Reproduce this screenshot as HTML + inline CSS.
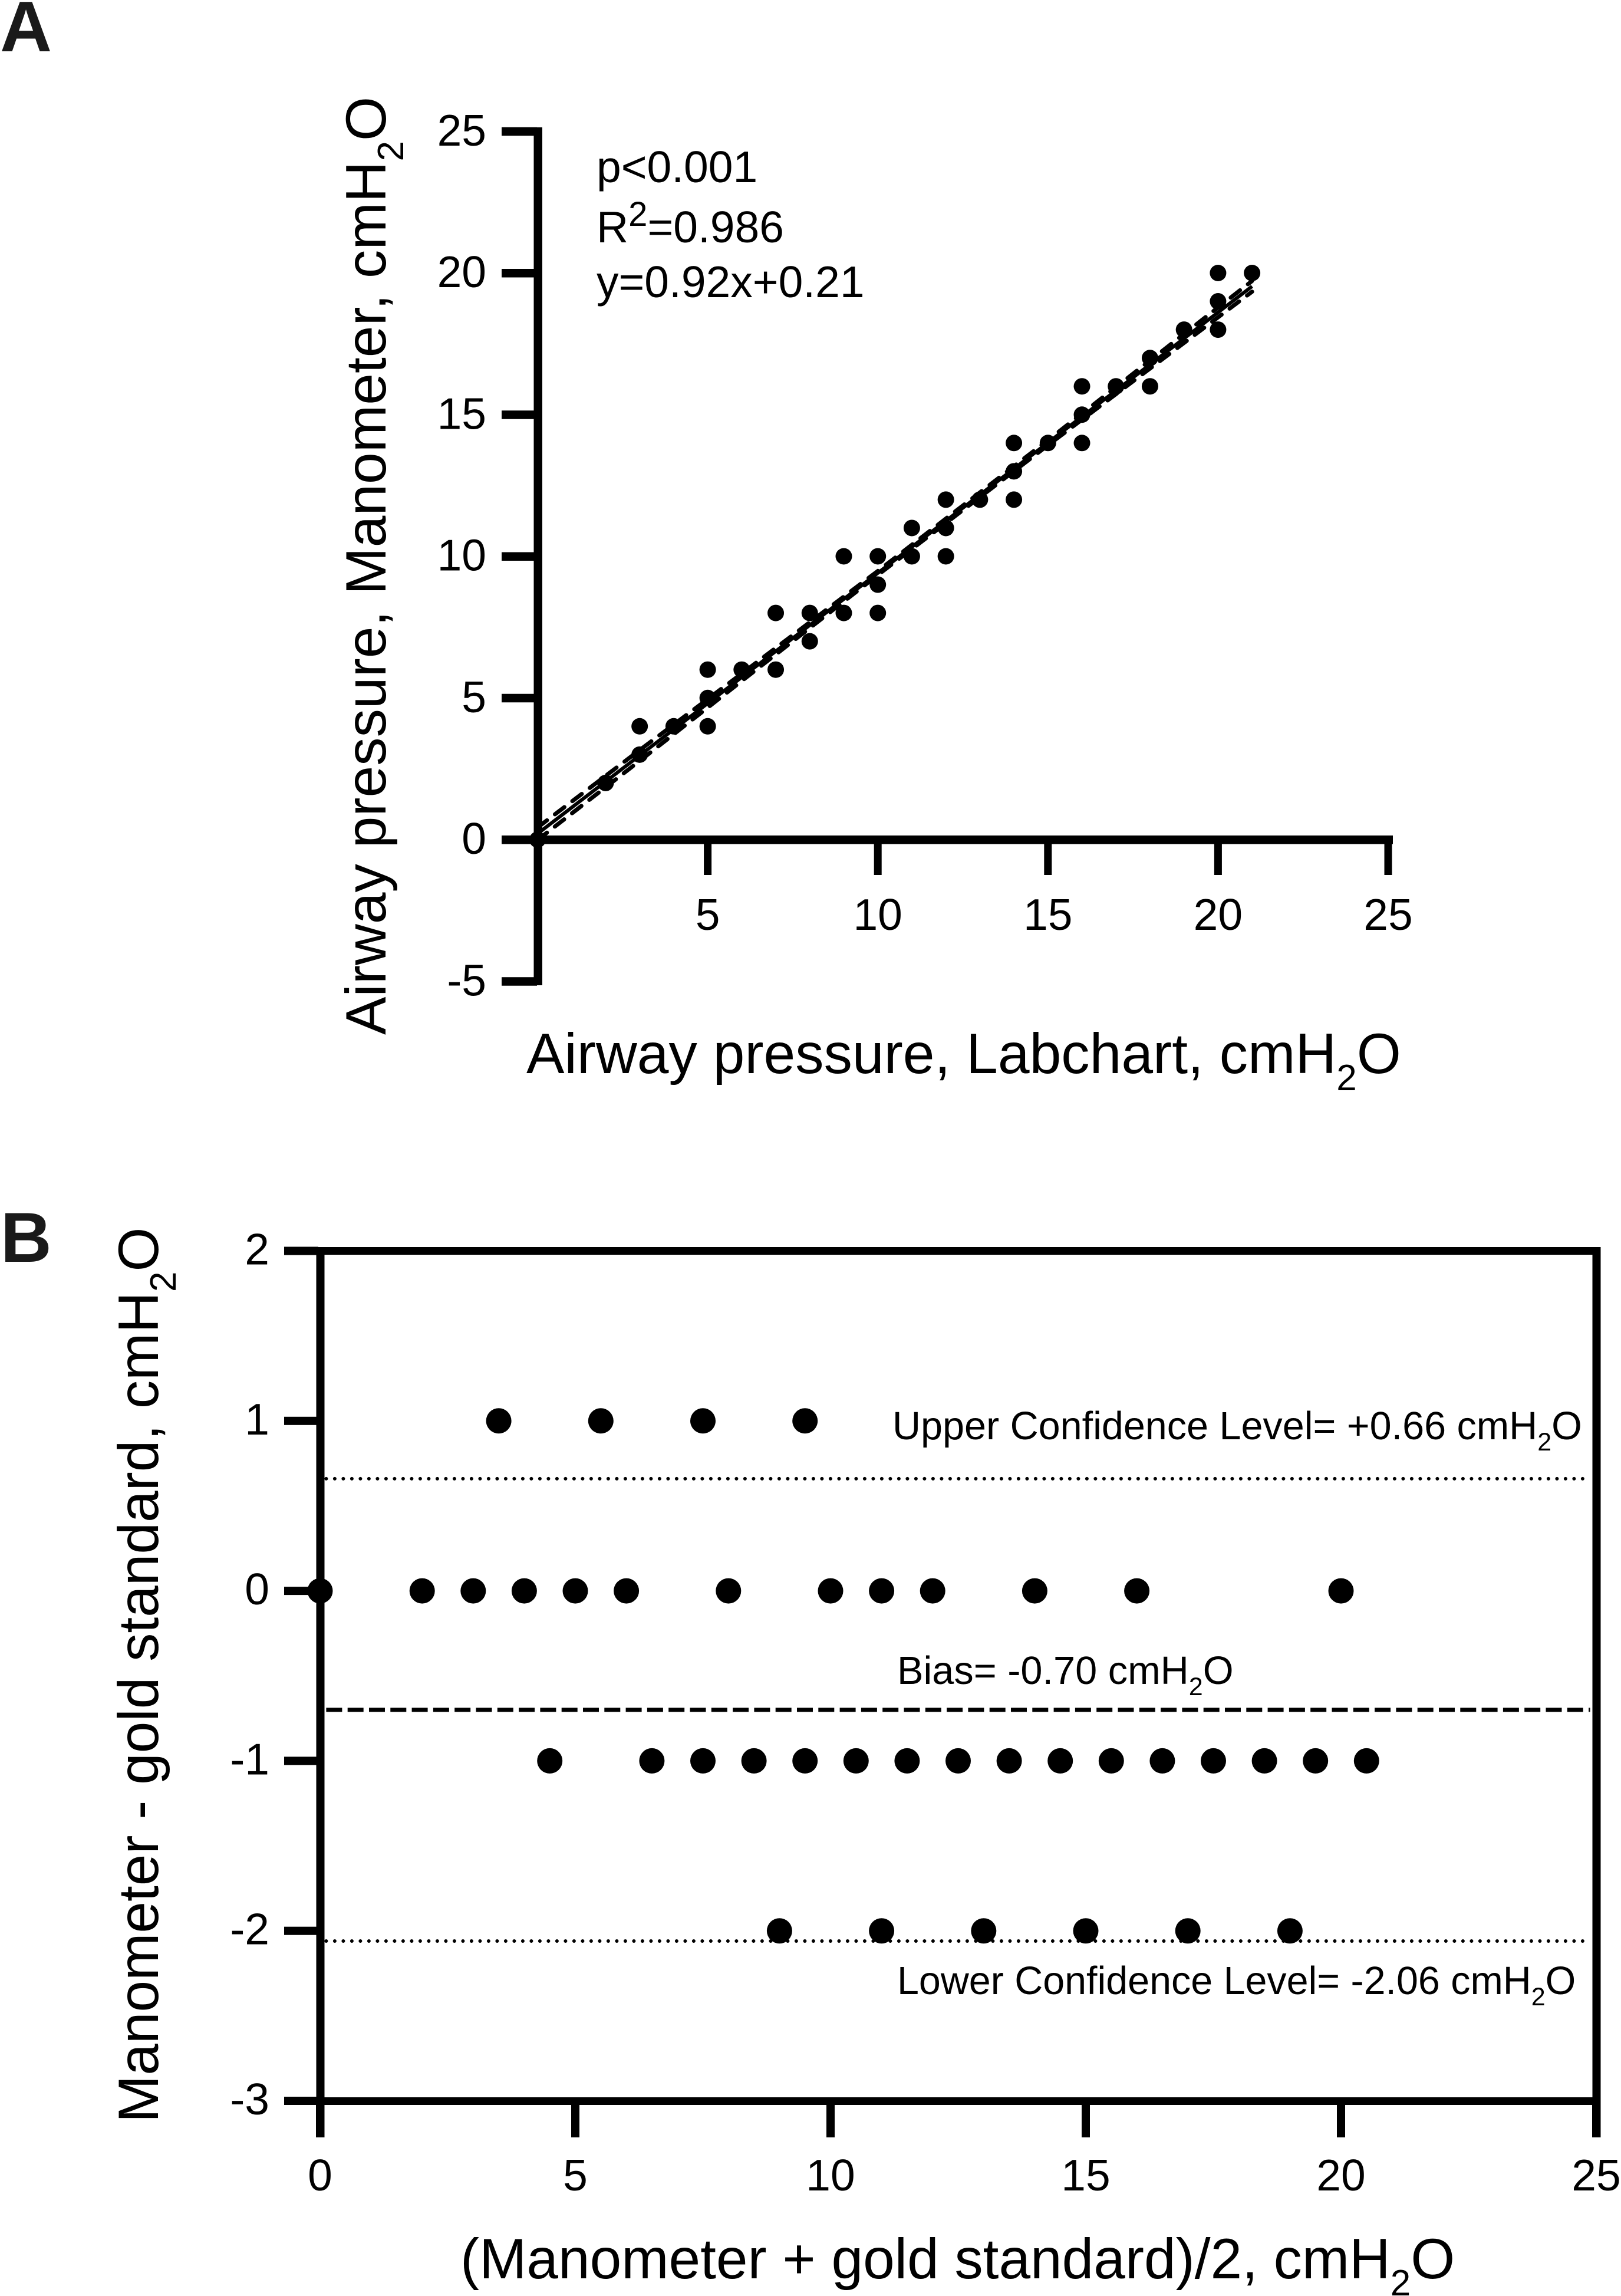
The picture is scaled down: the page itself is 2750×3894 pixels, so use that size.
<!DOCTYPE html>
<html lang="en">
<head>
<meta charset="utf-8">
<title>Airway pressure agreement: regression and Bland-Altman plots</title>
<style>
  html, body { margin: 0; padding: 0; background: #fff; }
  svg { display: block; font-family: "Liberation Sans", Arial, sans-serif; fill: #000; }
</style>
</head>
<body>
<svg id="figure" xmlns="http://www.w3.org/2000/svg" width="2750" height="3894" viewBox="0 0 2750 3894">
  <rect x="0" y="0" width="2750" height="3894" fill="#fff"/>

  <text x="0" y="87" font-size="122" font-weight="700" fill="#1a1a1a">A</text>
  <text x="1" y="2140" font-size="120" font-weight="700" fill="#1a1a1a">B</text>

  <g id="panelA"></g>
  <g id="panelB"></g>

  <text x="1012" y="309" font-size="75">p&lt;0.001</text>
  <text x="1012" y="411" font-size="75">R<tspan dy="-28" font-size="58">2</tspan><tspan dy="28">=0.986</tspan></text>
  <text x="1012" y="504" font-size="75">y=0.92x+0.21</text>

  <text transform="translate(654 1755) rotate(-90)" font-size="96.6">Airway pressure, Manometer, cmH<tspan dy="30" font-size="62">2</tspan><tspan dy="-30">O</tspan></text>
  <text x="893" y="1820" font-size="96.6">Airway pressure, Labchart, cmH<tspan dy="29" font-size="62">2</tspan><tspan dy="-29">O</tspan></text>

  <text transform="translate(268 3600) rotate(-90)" font-size="96.4">Manometer - gold standard, cmH<tspan dy="30" font-size="62">2</tspan><tspan dy="-30">O</tspan></text>
  <text x="781" y="3864" font-size="96.4">(Manometer + gold standard)/2, cmH<tspan dy="29" font-size="62">2</tspan><tspan dy="-29">O</tspan></text>

  <text x="1514" y="2441" font-size="66.5">Upper Confidence Level= +0.66 cmH<tspan dy="19" font-size="43">2</tspan><tspan dy="-19">O</tspan></text>
  <text x="1522" y="2856" font-size="66.7">Bias= -0.70 cmH<tspan dy="19" font-size="43">2</tspan><tspan dy="-19">O</tspan></text>
  <text x="1522" y="3382" font-size="66.4">Lower Confidence Level= -2.06 cmH<tspan dy="19" font-size="43">2</tspan><tspan dy="-19">O</tspan></text>
</svg>

<script>
// Panel A data
var scatterX = [0,2,3,3,4,5,5,5,6,7,7,8,8,9,9,10,10,10,11,11,12,12,12,13,14,14,14,15,16,16,16,17,18,18,19,20,20,20,21];
var scatterY = [0,2,3,4,4,4,5,6,6,6,8,7,8,8,10,8,9,10,10,11,10,11,12,12,12,13,14,14,14,15,16,16,16,17,18,18,19,20,20];
var fitX = [0,3,6,10,15,18,21];
var fitY = [0.21,2.97,5.73,9.41,14.01,16.77,19.53];
var ciUpper = [0.43,3.16,5.86,9.48,14.10,16.91,19.72];
var ciLower = [-0.01,2.78,5.60,9.34,13.92,16.63,19.34];
var aTicksX = [5,10,15,20,25];
var aTicksY = [-5,0,5,10,15,20,25];

// Panel B data
var baX = [3.5,5.5,7.5,9.5,
  0,2,3,4,5,6,8,10,11,12,14,16,20,
  4.5,6.5,7.5,8.5,9.5,10.5,11.5,12.5,13.5,14.5,15.5,16.5,17.5,18.5,19.5,20.5,
  9,11,13,15,17,19];
var baY = [1,1,1,1,
  0,0,0,0,0,0,0,0,0,0,0,0,0,
  -1,-1,-1,-1,-1,-1,-1,-1,-1,-1,-1,-1,-1,-1,-1,-1,
  -2,-2,-2,-2,-2,-2];
var bias = -0.70;
var upperLimit = 0.66;
var lowerLimit = -2.06;
var refLineRange = [0.12,24.88];
var bTicksX = [0,5,10,15,20,25];
var bTicksY = [-3,-2,-1,0,1,2];

function xA(v) { return 912 + 57.72 * v; }
function yA(v) { return 1424 - 48.05 * v; }
function xB(v) { return 543 + 86.6 * v; }
function yB(v) { return 2698.1 - 288.3 * v; }

var NS = 'http://www.w3.org/2000/svg';
var panelA = document.getElementById('panelA');
var panelB = document.getElementById('panelB');

function make(tag, attrs, parent) {
  var el = document.createElementNS(NS, tag);
  for (var k in attrs) el.setAttribute(k, attrs[k]);
  parent.appendChild(el);
  return el;
}
function linePoints(xs, ys, fx, fy) {
  return xs.map(function (x, i) { return fx(x) + ',' + fy(ys[i]); }).join(' ');
}

var el, i;

// ---- Panel A axes ----
el = make('rect', {x: 905.5, y: 216, width: 14.5, height: 1455}, panelA);



el = make('rect', {x: 851, y: 1417, width: 1512, height: 14.5}, panelA);



aTicksY.forEach(function (v) {
  var t = make('rect', {x: 851, y: yA(v) - 7, width: 60, height: 14.5}, panelA);
  
  
  var l = make('text', {x: 825, y: yA(v) + 24, 'font-size': 75, 'text-anchor': 'end'}, panelA);
  
  
  l.textContent = String(v);
});

aTicksX.forEach(function (v) {
  var t = make('rect', {x: xA(v) - 6.5, y: 1425, width: 13, height: 59}, panelA);
  
  
  var l = make('text', {x: xA(v), y: 1577, 'font-size': 75, 'text-anchor': 'middle'}, panelA);
  
  
  l.textContent = String(v);
});

// ---- Panel A regression ----
el = make('polyline', {points: linePoints(fitX, fitY, xA, yA), fill: 'none', stroke: '#000', 'stroke-width': 6}, panelA);



el = make('polyline', {points: linePoints(fitX, ciUpper, xA, yA), fill: 'none', stroke: '#000', 'stroke-width': 7, 'stroke-linecap': 'round', 'stroke-dasharray': '20 17'}, panelA);



el = make('polyline', {points: linePoints(fitX, ciLower, xA, yA), fill: 'none', stroke: '#000', 'stroke-width': 7, 'stroke-linecap': 'round', 'stroke-dasharray': '20 17'}, panelA);



for (i = 0; i < scatterX.length; i++) {
  el = make('circle', {cx: xA(scatterX[i]), cy: yA(scatterY[i]), r: 14}, panelA);
  
  
}

// ---- Panel B frame ----
el = make('rect', {x: 482, y: 2115, width: 2233, height: 13}, panelB);



el = make('rect', {x: 482, y: 3557, width: 2233, height: 13}, panelB);



el = make('rect', {x: 536.5, y: 2115, width: 14, height: 1510}, panelB);



el = make('rect', {x: 2701.5, y: 2115, width: 14, height: 1510}, panelB);



bTicksY.forEach(function (v) {
  var t = make('rect', {x: 482, y: yB(v) - 7, width: 58, height: 14}, panelB);
  
  
  var l = make('text', {x: 457, y: yB(v) + 23, 'font-size': 75, 'text-anchor': 'end'}, panelB);
  
  
  l.textContent = String(v);
});

bTicksX.forEach(function (v) {
  var t = make('rect', {x: xB(v) - 7, y: 3565, width: 14, height: 60}, panelB);
  
  
  var l = make('text', {x: xB(v), y: 3715, 'font-size': 75, 'text-anchor': 'middle'}, panelB);
  
  
  l.textContent = String(v);
});

// ---- Panel B reference lines ----
el = make('line', {x1: xB(refLineRange[0]), x2: xB(refLineRange[1]), y1: yB(upperLimit), y2: yB(upperLimit), stroke: '#000', 'stroke-width': 6, 'stroke-linecap': 'round', 'stroke-dasharray': '0 14.5'}, panelB);



el = make('line', {x1: xB(refLineRange[0]), x2: xB(refLineRange[1]), y1: yB(bias), y2: yB(bias), stroke: '#000', 'stroke-width': 7, 'stroke-dasharray': '27 9.3'}, panelB);



el = make('line', {x1: xB(refLineRange[0]), x2: xB(refLineRange[1]), y1: yB(lowerLimit), y2: yB(lowerLimit), stroke: '#000', 'stroke-width': 6, 'stroke-linecap': 'round', 'stroke-dasharray': '0 14.5'}, panelB);



for (i = 0; i < baX.length; i++) {
  el = make('circle', {cx: xB(baX[i]), cy: yB(baY[i]), r: 21.5}, panelB);
  
  
}
</script>
</body>
</html>
